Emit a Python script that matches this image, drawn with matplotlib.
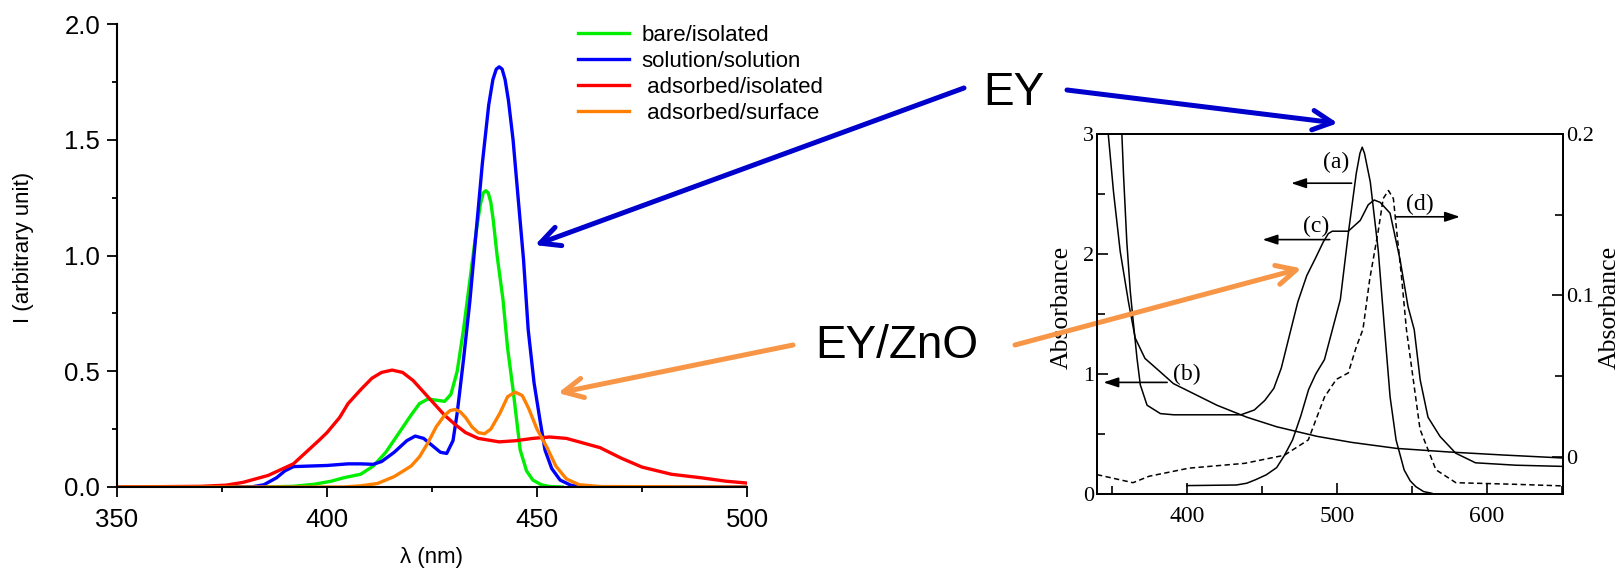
import numpy as np
import matplotlib
matplotlib.use("Agg")
import matplotlib.pyplot as plt
from matplotlib.ticker import MultipleLocator, FixedLocator

plt.rcParams['font.family'] = ['Liberation Sans', 'DejaVu Sans']

# --- computed emission spectra (left panel) ---
series_names = ["bare/isolated", "solution/solution", " adsorbed/isolated", " adsorbed/surface"]

wl_bare = [350, 385, 392, 397, 401, 404, 408, 411, 414, 417, 420, 422, 424, 426, 428,
           429.5, 431, 432.5, 434, 435.5, 436.5, 437.2, 437.8, 438.4, 439, 439.6, 440.5,
           441.9, 443, 444.3, 446, 447.5, 449, 451, 453, 456]
I_bare = [0, 0, 0.003, 0.012, 0.025, 0.04, 0.055, 0.09, 0.15, 0.23, 0.31, 0.36, 0.38,
          0.375, 0.37, 0.4, 0.5, 0.68, 0.89, 1.1, 1.22, 1.27, 1.28, 1.27, 1.23, 1.15,
          1.0, 0.81, 0.6, 0.42, 0.16, 0.07, 0.03, 0.01, 0.002, 0]

wl_sol = [350, 382, 385, 388, 390, 392, 395, 400, 405, 408, 411, 413, 416, 419, 421,
          423, 425, 427, 428.5, 430, 431, 432.5, 434, 435.5, 437, 438.5, 439.5, 440.3,
          441, 441.7, 442.4, 443.2, 444.3, 445.5, 446.8, 447.9, 449.3, 450.7, 451.9,
          453.5, 455.5, 458, 461, 500]
I_sol = [0, 0, 0.01, 0.04, 0.07, 0.088, 0.09, 0.093, 0.1, 0.1, 0.098, 0.11, 0.15, 0.2,
         0.22, 0.21, 0.18, 0.15, 0.145, 0.2, 0.32, 0.55, 0.8, 1.1, 1.4, 1.65, 1.76, 1.805,
         1.815, 1.805, 1.76, 1.67, 1.5, 1.25, 0.98, 0.68, 0.45, 0.29, 0.16, 0.08, 0.03,
         0.008, 0, 0]

wl_ads_iso = [350, 370, 376, 380, 383, 386, 389, 392, 395, 398, 400, 403, 405, 408,
              410.7, 413, 415.5, 418, 420.5, 423, 425.5, 428, 430.5, 433, 436, 441, 445,
              449, 453, 457, 461, 465, 470, 475, 482, 489, 495, 500]
I_ads_iso = [0, 0.003, 0.008, 0.02, 0.035, 0.05, 0.075, 0.1, 0.15, 0.2, 0.235, 0.3,
             0.36, 0.42, 0.47, 0.495, 0.505, 0.495, 0.46, 0.41, 0.36, 0.31, 0.27, 0.235,
             0.21, 0.195, 0.2, 0.21, 0.216, 0.21, 0.19, 0.17, 0.125, 0.086, 0.055, 0.04,
             0.025, 0.017]

wl_ads_surf = [350, 404, 408, 412, 416, 420, 422, 424, 426, 428, 429.3, 430.5, 431.7,
               433, 434.5, 436, 437.5, 439, 441.2, 443, 444.8, 446.5, 448, 450, 452.4,
               454.5, 457, 460, 465, 500]
I_ads_surf = [0, 0, 0.005, 0.015, 0.045, 0.09, 0.13, 0.19, 0.26, 0.31, 0.33, 0.335,
              0.325, 0.3, 0.26, 0.235, 0.23, 0.25, 0.32, 0.39, 0.41, 0.395, 0.34, 0.25,
              0.17, 0.09, 0.035, 0.01, 0.002, 0]

# --- measured absorbance (right panel) ---
wl_a = [400, 433, 440, 446, 453, 459.9, 465, 470.5, 476, 481.2, 486, 491.8, 497.1,
        502.4, 507.7, 513, 515.5, 517, 518.5, 522.4, 527.7, 531.6, 535.6, 539.6, 545,
        549, 552.9, 558, 563.5]
abs_a = [0.07, 0.075, 0.09, 0.12, 0.16, 0.22, 0.32, 0.45, 0.65, 0.87, 1.0, 1.12, 1.37,
         1.62, 2.17, 2.67, 2.84, 2.89, 2.84, 2.6, 2.03, 1.42, 0.81, 0.45, 0.2, 0.11,
         0.06, 0.02, 0.006]

wl_b = [347.5, 351, 355.5, 361, 365.5, 372, 382, 391, 420, 440, 460, 487, 510, 540,
        575, 611, 651]
abs_b = [3.0, 2.52, 2.02, 1.6, 1.3, 1.13, 1.02, 0.92, 0.74, 0.64, 0.56, 0.48, 0.43,
         0.38, 0.35, 0.325, 0.30]

wl_c = [356.6, 357.7, 359.9, 362.2, 364, 366.7, 368.9, 373.4, 382.3, 391.3, 436,
        445, 452, 458, 463, 468, 474, 480, 486, 491, 494.4, 497, 507.7, 515.7, 521, 525,
        529, 535.6, 542.3, 547.6, 551.7, 555.7, 560.9, 568.9, 579.4, 592.6, 619.4, 651]
abs_c = [3.0, 2.66, 2.1, 1.69, 1.46, 1.13, 0.91, 0.74, 0.67, 0.66, 0.66, 0.7, 0.78,
         0.88, 1.05, 1.3, 1.6, 1.82, 1.97, 2.1, 2.17, 2.19, 2.19, 2.28, 2.41, 2.45, 2.43,
         2.34, 1.95, 1.56, 1.37, 0.95, 0.64, 0.48, 0.34, 0.26, 0.24, 0.23]

wl_d = [340, 364, 374.8, 401.3, 438.6, 465, 481, 491.8, 499.7, 507.7, 513, 517.5,
        522, 527.7, 531, 534.5, 537.8, 540, 543.4, 546.5, 555.6, 566.2, 579.5, 619.4,
        651]
abs_d = [-0.011, -0.016, -0.012, -0.007, -0.004, 0.001, 0.0105, 0.037, 0.048, 0.052,
         0.068, 0.079, 0.11, 0.14, 0.16, 0.165, 0.16, 0.14, 0.11, 0.079, 0.017,
         -0.008, -0.016, -0.017, -0.018]

W, H = 1621, 569
fig = plt.figure(figsize=(W / 100, H / 100), dpi=100)


def fpos(px, py):
    # pixel position (from top-left) -> figure fraction
    return (px / W, 1 - py / H)


ax = fig.add_axes([117 / W, 1 - 487 / H, 630 / W, 463 / H])
colors = ['#00ee00', '#0000ff', '#ff0000', '#ff8000']
for wl, inten, c, name in zip([wl_bare, wl_sol, wl_ads_iso, wl_ads_surf],
                              [I_bare, I_sol, I_ads_iso, I_ads_surf], colors, series_names):
    ax.plot(wl, inten, color=c, lw=2.4, label=name, solid_joinstyle='round')

ax.set_xlim(350, 500)
ax.set_ylim(0, 2.0)
ax.xaxis.set_major_locator(MultipleLocator(50))
ax.xaxis.set_minor_locator(MultipleLocator(25))
ax.yaxis.set_major_locator(MultipleLocator(0.5))
ax.yaxis.set_minor_locator(MultipleLocator(0.25))
ax.yaxis.set_major_formatter(plt.FuncFormatter(lambda v, p: "%.1f" % v))
for s in ['top', 'right']:
    ax.spines[s].set_visible(False)
for s in ['left', 'bottom']:
    ax.spines[s].set_linewidth(1.5)
ax.tick_params(which='major', direction='out', length=7, width=1.3, labelsize=18.5)
ax.tick_params(which='minor', direction='out', length=3.8, width=1.3)
ax.tick_params(axis='y', pad=5)
ax.tick_params(axis='x', pad=8)
ax.set_ylabel("I (arbitrary unit)", fontsize=16)
ax.yaxis.set_label_coords((34 - 117) / 630, (487 - 247) / 463)
ax.set_xlabel("λ (nm)", fontsize=16)
ax.xaxis.set_label_coords(0.5, -(558 - 487) / 463)
ax.xaxis.label.set_va('center')

fig.legend(loc='upper left', bbox_to_anchor=fpos(578, 25), frameon=False,
           fontsize=16, handlelength=2.3, handletextpad=0.55, labelspacing=0.22,
           borderpad=0, borderaxespad=0)

# right panel: absorbance spectra, two y scales
serif = ['Liberation Serif', 'DejaVu Serif']
ax2 = fig.add_axes([1097 / W, 1 - 494 / H, 466 / W, 360 / H])
ax3 = ax2.twinx()
ax2.plot(wl_a, abs_a, color='k', lw=1.1)
ax2.plot(wl_b, abs_b, color='k', lw=1.1)
ax2.plot(wl_c, abs_c, color='k', lw=1.1)
ax3.plot(wl_d, abs_d, color='k', lw=1.1, ls=(0, (3.5, 2.2)))
ax2.set_xlim(340, 651)
ax2.set_ylim(0, 3)
ax3.set_ylim(-0.023, 0.2)
ax2.xaxis.set_major_locator(MultipleLocator(100))
ax2.xaxis.set_minor_locator(MultipleLocator(50))
ax2.yaxis.set_major_locator(MultipleLocator(1))
ax2.yaxis.set_minor_locator(MultipleLocator(0.5))
ax3.yaxis.set_major_locator(FixedLocator([0, 0.1, 0.2]))
ax3.yaxis.set_minor_locator(FixedLocator([0.05, 0.15]))
ax3.yaxis.set_major_formatter(plt.FuncFormatter(lambda v, p: "0" if v == 0 else "%.1f" % v))
ax2.tick_params(which='both', direction='in', top=False, right=False, width=1.2,
                labelsize=16, labelfontfamily=serif, pad=2)
ax2.tick_params(which='major', length=8)
ax2.tick_params(which='minor', length=5.5)
ax2.tick_params(axis='x', pad=9, labelsize=17)
ax3.tick_params(which='both', direction='in', width=1.2, labelsize=16,
                labelfontfamily=serif, pad=2)
ax3.tick_params(which='major', length=8)
ax3.tick_params(which='minor', length=5.5)
for a in (ax2, ax3):
    for s in a.spines.values():
        s.set_linewidth(1.3)
ax2.set_ylabel("Absorbance", fontsize=18.5, family=serif)
ax2.yaxis.set_label_coords((1073 - 1097) / 466, 0.517)
ax3.set_ylabel("Absorbance", fontsize=18.5, family=serif, rotation=90)
ax3.yaxis.set_label_coords((1599 - 1097) / 466, 0.517)

# curve tags with small arrows pointing to the matching axis
tag_kw = dict(fontsize=17, family=serif, ha='center', va='center')
arr_kw = dict(arrowstyle='-|>,head_length=0.9,head_width=0.3', color='k', lw=1.2,
              shrinkA=0, shrinkB=0)
ax2.text(499.8, 2.76, "(a)", **tag_kw)
ax2.annotate("", xy=(469.6, 2.59), xytext=(509.9, 2.59), arrowprops=arr_kw)
ax2.text(486.4, 2.23, "(c)", **tag_kw)
ax2.annotate("", xy=(450.5, 2.12), xytext=(495.3, 2.12), arrowprops=arr_kw)
ax2.text(555.6, 2.41, "(d)", **tag_kw)
ax2.annotate("", xy=(582.2, 2.31), xytext=(539.6, 2.31), arrowprops=arr_kw)
ax2.text(400.2, 1.0, "(b)", **tag_kw)
ax2.annotate("", xy=(344.3, 0.93), xytext=(386.8, 0.93), arrowprops=arr_kw)

# EY and EY/ZnO call-outs linking the two panels
blue = '#0000cc'
orange = '#f79646'
fig.text(*fpos(1014, 93), "EY", fontsize=33, ha='center', va='center')
fig.text(*fpos(897, 346), "EY/ZnO", fontsize=33, ha='center', va='center')
big_b = dict(arrowstyle='->,head_length=0.7,head_width=0.35', color=blue, lw=3.6,
             shrinkA=0, shrinkB=0, mutation_scale=20)
big_o = dict(big_b, color=orange)
ax.annotate("", xy=(449.5, 1.045), xycoords='data', xytext=fpos(964, 88),
            textcoords='figure fraction', arrowprops=big_b, annotation_clip=False)
ax2.annotate("", xy=(500.7, 3.09), xycoords='data', xytext=fpos(1067, 90),
             textcoords='figure fraction', arrowprops=big_b, annotation_clip=False)
ax.annotate("", xy=(455.0, 0.406), xycoords='data', xytext=fpos(793, 345),
            textcoords='figure fraction', arrowprops=big_o, annotation_clip=False)
ax2.annotate("", xy=(476.5, 1.88), xycoords='data', xytext=fpos(1015, 345),
             textcoords='figure fraction', arrowprops=big_o, annotation_clip=False)

fig.savefig("out.png", dpi=100)
